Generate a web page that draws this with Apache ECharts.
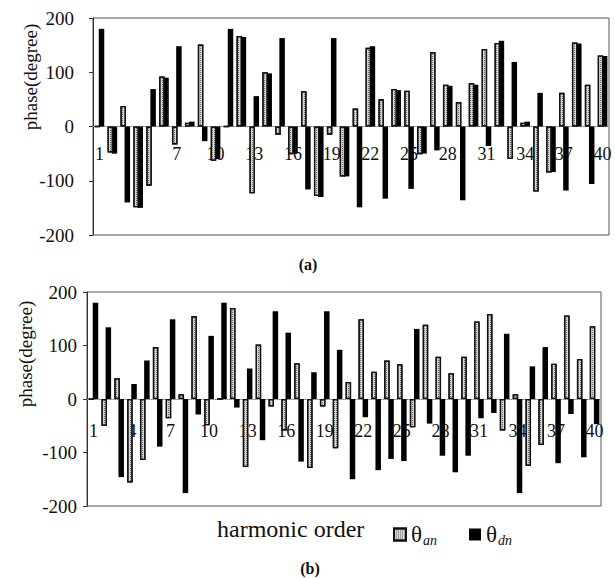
<!DOCTYPE html>
<html>
<head>
<meta charset="utf-8">
<script src="https://cdn.jsdelivr.net/npm/echarts@6/dist/echarts.min.js"></script>
<style>
  html, body { margin: 0; padding: 0; background: #fff; }
  #chartWrap { width: 615px; height: 579px; }
</style>
</head>
<body>
<div id="chartWrap"></div>
<script>
// 谐波次数
var harmonics = ['1', '2', '3', '4', '5', '6', '7', '8', '9', '10',
  '11', '12', '13', '14', '15', '16', '17', '18', '19', '20',
  '21', '22', '23', '24', '25', '26', '27', '28', '29', '30',
  '31', '32', '33', '34', '35', '36', '37', '38', '39', '40'];
var yTicks = [-200, -100, 0, 100, 200];

// (a) 相位
var thetaAnA = [0, -48, 38, -149, -109, 92, -33, 7, 151, -63, 0, 167, -123, 100, -15, -51, 65, -128, -15, -92,
  33, 145, 50, 69, 66, -51, 137, 77, 45, 80, 143, 154, -60, 7, -120, -85, 62, 155, 77, 131];
var thetaDnA = [180, -50, -140, -150, 69, 90, 148, 9, -27, -60, 180, 165, 56, 98, 163, -50, -116, -130, 163, -92,
  -149, 148, -133, 67, -115, -50, -44, 75, -136, 77, -36, 158, 119, 9, 62, -84, -118, 153, -106, 130];

// (b) 相位
var thetaAnB = [0, -50, 39, -156, -114, 97, -36, 9, 155, -49, 0, 170, -127, 102, -14, -59, 67, -129, -14, -92,
  32, 149, 51, 72, 65, -53, 139, 79, 48, 79, 145, 159, -59, 9, -125, -86, 66, 156, 75, 136];
var thetaDnB = [180, 134, -146, 28, 72, -89, 149, -176, -29, 118, 180, -16, 57, -77, 164, 124, -117, 50, 164, 92,
  -150, -34, -133, -112, -116, 131, -46, -106, -137, -106, -36, -26, 122, -176, 61, 97, -120, -28, -109, -47];

var SERIF = 'Liberation Serif';
var GRIDS = [
  { left: 93, top: 18, width: 516, height: 217 },
  { left: 87, top: 292, width: 514, height: 214 }
];

var hatchStyle = {
  color: '#d4d4d4',
  borderColor: '#111',
  borderWidth: 1.3,
  decal: { symbol: 'rect', symbolSize: 1, color: '#707070', dashArrayX: [1, 1], dashArrayY: [1, 1] }
};
var solidStyle = { color: '#000' };

// x轴放在0处 (y范围对称, 取网格一半高度)
function xAxisOf(idx, margin) {
  return {
    type: 'category',
    gridIndex: idx,
    data: harmonics,
    offset: -GRIDS[idx].height / 2,
    axisLine: { onZero: false, lineStyle: { color: '#888', type: 'dotted' } },
    axisTick: { show: false },
    axisLabel: { interval: 2, margin: margin, color: '#111', fontFamily: SERIF, fontSize: 18 }
  };
}

function yAxisOf(idx, margin) {
  return {
    type: 'value',
    gridIndex: idx,
    min: yTicks[0],
    max: yTicks[yTicks.length - 1],
    interval: 100,
    axisLine: { show: true, lineStyle: { color: '#333' } },
    axisTick: { show: true, length: 4, lineStyle: { color: '#333' } },
    splitLine: { show: false },
    axisLabel: { margin: margin, color: '#111', fontFamily: SERIF, fontSize: 19 }
  };
}

function barOf(name, idx, data, style, z) {
  return {
    name: name,
    type: 'bar',
    xAxisIndex: idx,
    yAxisIndex: idx,
    data: data,
    barWidth: 5.5,
    barGap: '-25%',
    z: z,
    itemStyle: style
  };
}

var myChart = echarts.init(document.getElementById('chartWrap'), null, { renderer: 'svg' });

myChart.setOption({
  backgroundColor: '#fff',
  animation: false,
  grid: GRIDS.map(function(g) {
    return { left: g.left, top: g.top, width: g.width, height: g.height, show: true, borderColor: '#555', borderWidth: 1 };
  }),
  xAxis: [xAxisOf(0, 18), xAxisOf(1, 23)],
  yAxis: [yAxisOf(0, 19), yAxisOf(1, 10)],
  legend: {
    data: ['θan', 'θdn'],
    left: 388,
    top: 518,
    icon: 'rect',
    itemWidth: 12,
    itemHeight: 12,
    itemGap: 32,
    selectedMode: false,
    formatter: function(name) {
      return '{t|θ}{s|' + name.slice(1) + '}';
    },
    textStyle: {
      rich: {
        t: { fontFamily: SERIF, fontSize: 23, color: '#111', lineHeight: 26 },
        s: { fontFamily: SERIF, fontSize: 14, fontStyle: 'italic', color: '#111', padding: [12, 0, 0, 1] }
      }
    }
  },
  graphic: [
    { type: 'text', x: 30, y: 77, rotation: Math.PI / 2,
      style: { text: 'phase(degree)', fontFamily: SERIF, fontSize: 19, fill: '#111', align: 'center', verticalAlign: 'middle' } },
    { type: 'text', x: 25, y: 354, rotation: Math.PI / 2,
      style: { text: 'phase(degree)', fontFamily: SERIF, fontSize: 19, fill: '#111', align: 'center', verticalAlign: 'middle' } },
    { type: 'text', x: 217, y: 529,
      style: { text: 'harmonic order', fontFamily: SERIF, fontSize: 24, fill: '#111', align: 'left', verticalAlign: 'middle' } },
    { type: 'text', x: 308, y: 264,
      style: { text: '(a)', fontFamily: SERIF, fontSize: 16, fontWeight: 'bold', fill: '#111', align: 'center', verticalAlign: 'middle' } },
    { type: 'text', x: 310, y: 568,
      style: { text: '(b)', fontFamily: SERIF, fontSize: 16, fontWeight: 'bold', fill: '#111', align: 'center', verticalAlign: 'middle' } }
  ],
  series: [
    barOf('θan', 0, thetaAnA, hatchStyle, 3),
    barOf('θdn', 0, thetaDnA, solidStyle, 2),
    barOf('θan', 1, thetaAnB, hatchStyle, 3),
    barOf('θdn', 1, thetaDnB, solidStyle, 2)
  ]
});
</script>
</body>
</html>
